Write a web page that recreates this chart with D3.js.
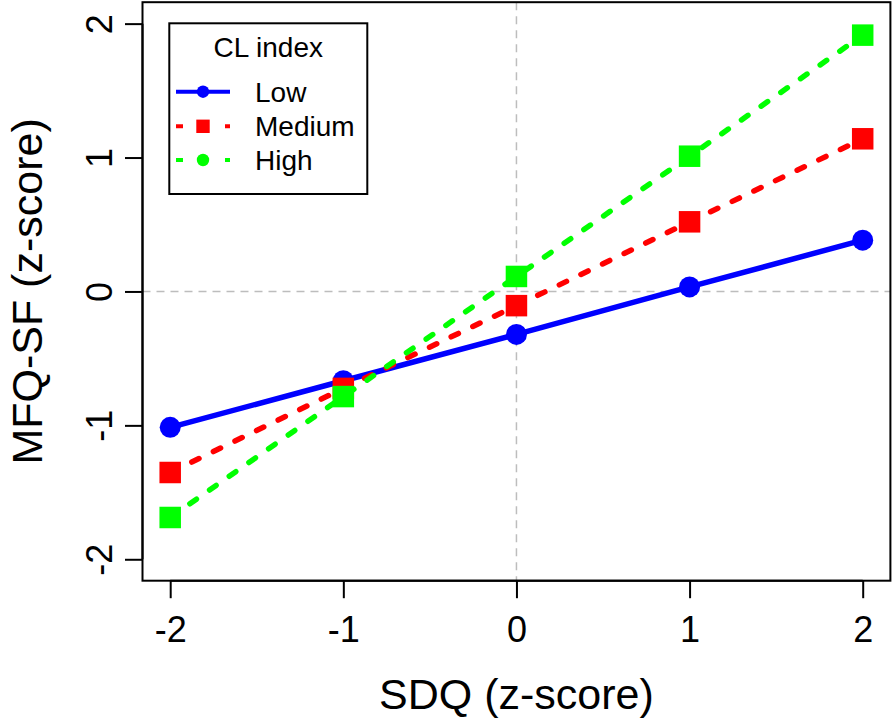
<!DOCTYPE html>
<html>
<head>
<meta charset="utf-8">
<script src="https://cdn.jsdelivr.net/npm/d3@7"></script>
<style>
  html, body { margin: 0; padding: 0; background: #fff; }
  svg { display: block; font-family: "Liberation Sans", Arial, sans-serif; }
</style>
</head>
<body>
<svg id="chart" width="894" height="721"></svg>
<script>
// ---- data ----
const sdq = [-2, -1, 0, 1, 2];
const lowValues = [-1.015, -0.667, -0.321, 0.034, 0.383];
const mediumValues = [-1.352, -0.724, -0.106, 0.52, 1.14];
const highValues = [-1.688, -0.785, 0.112, 1.01, 1.914];
const seriesNames = ["Low", "Medium", "High"];
const seriesColors = ["#0000ff", "#ff0000", "#00ff00"];
const xTicks = [-2, -1, 0, 1, 2];
const yTicks = [-2, -1, 0, 1, 2];
const xTitle = "SDQ (z-score)";
const yTitle = "MFQ-SF (z-score)";
const legendTitle = "CL index";

const series = [
  { name: seriesNames[0], values: lowValues, color: seriesColors[0], dashed: false, shape: "circle", legendShape: "circle" },
  { name: seriesNames[1], values: mediumValues, color: seriesColors[1], dashed: true, shape: "square", legendShape: "square" },
  { name: seriesNames[2], values: highValues, color: seriesColors[2], dashed: true, shape: "square", legendShape: "circle" }
];

const svg = d3.select("#chart");
const L = 142.5, R = 890.4, T = 2.2, B = 580.7;
const x = d3.scaleLinear().domain([-2.16, 2.16]).range([L, R]);
const y = d3.scaleLinear().domain([-2.16, 2.16]).range([B, T]);
const fmt = d => String(d);

// reference lines
const grid = svg.append("g").attr("stroke", "#bdbdbd").attr("stroke-width", 1.5).attr("stroke-dasharray", "8,6");
grid.append("line").attr("x1", x(0)).attr("x2", x(0)).attr("y1", T).attr("y2", B);
grid.append("line").attr("x1", L).attr("x2", R).attr("y1", y(0)).attr("y2", y(0));

// series
const line = d3.line().x((d, i) => x(sdq[i])).y(d => y(d));
series.forEach(s => {
  const g = svg.append("g");
  g.append("path")
    .attr("d", line(s.values))
    .attr("fill", "none")
    .attr("stroke", s.color)
    .attr("stroke-width", 5.5)
    .attr("stroke-linecap", "round")
    .attr("stroke-dasharray", s.dashed ? "8,16" : null);
  if (s.shape === "circle") {
    g.selectAll("circle").data(s.values).join("circle")
      .attr("cx", (d, i) => x(sdq[i])).attr("cy", d => y(d)).attr("r", 10.5)
      .attr("fill", s.color);
  } else {
    const side = 21.5;
    g.selectAll("rect").data(s.values).join("rect")
      .attr("x", (d, i) => x(sdq[i]) - side / 2).attr("y", d => y(d) - side / 2)
      .attr("width", side).attr("height", side)
      .attr("fill", s.color);
  }
});

// box
svg.append("rect").attr("x", L).attr("y", T).attr("width", R - L).attr("height", B - T)
  .attr("fill", "none").attr("stroke", "#000").attr("stroke-width", 2);

// x axis
const xAxis = svg.append("g").attr("transform", `translate(0,${B})`)
  .call(d3.axisBottom(x).tickValues(xTicks).tickSize(17.5).tickPadding(0).tickFormat(fmt));
xAxis.select(".domain").attr("d", `M${x(-2)},0H${x(2)}`).attr("stroke-width", 2);
xAxis.selectAll(".tick line").attr("stroke-width", 2);
xAxis.selectAll(".tick text").attr("y", 61).attr("dy", 0)
  .attr("font-size", 36).attr("font-family", "Liberation Sans, Arial, sans-serif").attr("fill", "#000");

// y axis
const yAxis = svg.append("g").attr("transform", `translate(${L},0)`)
  .call(d3.axisLeft(y).tickValues(yTicks).tickSize(17.5).tickPadding(0).tickFormat(fmt));
yAxis.select(".domain").attr("d", `M0,${y(-2)}V${y(2)}`).attr("stroke-width", 2);
yAxis.selectAll(".tick line").attr("stroke-width", 2);
yAxis.selectAll(".tick text")
  .attr("x", null).attr("dy", 0).attr("text-anchor", "middle")
  .attr("transform", "translate(-30.5,0) rotate(-90)")
  .attr("font-size", 36).attr("font-family", "Liberation Sans, Arial, sans-serif").attr("fill", "#000");

// axis titles
svg.append("text").attr("x", x(0)).attr("y", 709).attr("text-anchor", "middle")
  .attr("font-size", 43).text(xTitle);
svg.append("text").attr("transform", `translate(42,${y(0)}) rotate(-90)`).attr("text-anchor", "middle")
  .attr("font-size", 43).text(yTitle);

// legend
const lg = svg.append("g");
lg.append("rect").attr("x", 169.3).attr("y", 23.3).attr("width", 198).attr("height", 170.7)
  .attr("fill", "#fff").attr("stroke", "#000").attr("stroke-width", 2);
lg.append("text").attr("x", 268.3).attr("y", 57).attr("text-anchor", "middle")
  .attr("font-size", 28).text(legendTitle);
const rowY = [91.7, 126.3, 160];
series.forEach((s, i) => {
  const cy = rowY[i];
  lg.append("line").attr("x1", 176).attr("x2", 230).attr("y1", cy).attr("y2", cy)
    .attr("stroke", s.color).attr("stroke-width", 4)
    .attr("stroke-dasharray", s.dashed ? "7,17.5" : null);
  if (s.legendShape === "circle") {
    lg.append("circle").attr("cx", 203).attr("cy", cy).attr("r", 6.2).attr("fill", s.color);
  } else {
    lg.append("rect").attr("x", 203 - 6.7).attr("y", cy - 6.7).attr("width", 13.4).attr("height", 13.4).attr("fill", s.color);
  }
  lg.append("text").attr("x", 255).attr("y", cy + 10).attr("font-size", 28).text(s.name);
});
</script>
</body>
</html>
